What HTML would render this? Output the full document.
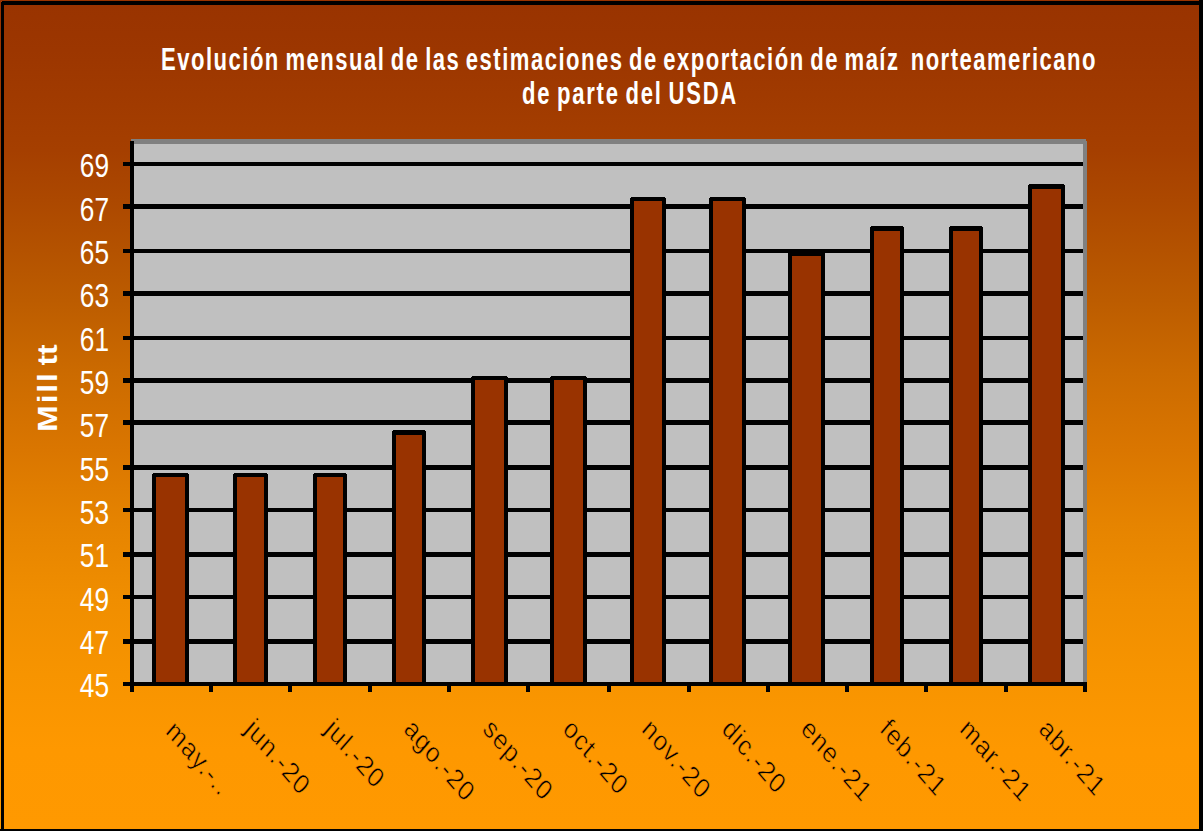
<!DOCTYPE html>
<html><head><meta charset="utf-8"><style>
html,body{margin:0;padding:0}
html{overflow:hidden}
body{width:1203px;height:831px;overflow:hidden;position:relative;
background:linear-gradient(to bottom,rgb(153,51,0) 0px,rgb(156,54,0) 50px,rgb(165,63,0) 150px,rgb(172,72,0) 200px,rgb(188,92,0) 300px,rgb(204,107,0) 375px,rgb(218,118,0) 450px,rgb(230,132,0) 525px,rgb(240,142,0) 600px,rgb(247,148,0) 675px,rgb(254,152,0) 750px,rgb(255,153,0) 831px);
font-family:"Liberation Sans",sans-serif}
div{position:absolute;box-sizing:border-box}
.k{background:#000}
.f{background:#993300}
.yl{color:#fff;font-size:33px;line-height:33px;width:80px;text-align:right;transform-origin:100% 50%;transform:scaleX(0.795)}
.xl{color:#000;font-size:24px;line-height:24px;white-space:nowrap;letter-spacing:1.0px;-webkit-text-stroke:0.5px rgb(252,151,0);transform-origin:0 0;transform:scale(1,1.17) rotate(45deg)}
.title{color:#fff;font-weight:bold;font-size:31.5px;line-height:31.5px;width:1400px;text-align:center;white-space:pre;letter-spacing:2.12px;word-spacing:-2.86px;transform:scaleX(0.7)}
.ytitle{color:#fff;font-weight:bold;font-size:28px;line-height:28px;white-space:pre}
</style></head><body>
<div class="k" style="left:1px;top:1px;width:1202px;height:4px"></div>
<div class="k" style="left:1px;top:1px;width:3px;height:830px"></div>
<div class="k" style="left:1199px;top:0;width:4px;height:831px"></div>
<div class="k" style="left:0;top:829px;width:1203px;height:2px"></div>
<div style="left:1px;top:1px;width:1px;height:1px;background:#a83a00"></div>
<div style="left:1086px;top:139px;width:1px;height:2px;background:rgb(164,62,0);z-index:5"></div>
<div style="left:131px;top:139px;width:956px;height:547px;background:#808080"></div>
<div style="left:134px;top:144px;width:949px;height:538px;background:#C0C0C0"></div>
<div class="k" style="left:123px;top:162px;width:960px;height:4px"></div>
<div class="k" style="left:123px;top:204px;width:960px;height:5px"></div>
<div class="k" style="left:123px;top:249px;width:960px;height:4px"></div>
<div class="k" style="left:123px;top:291px;width:960px;height:5px"></div>
<div class="k" style="left:123px;top:336px;width:960px;height:4px"></div>
<div class="k" style="left:123px;top:378px;width:960px;height:5px"></div>
<div class="k" style="left:123px;top:420px;width:960px;height:5px"></div>
<div class="k" style="left:123px;top:465px;width:960px;height:5px"></div>
<div class="k" style="left:123px;top:508px;width:960px;height:4px"></div>
<div class="k" style="left:123px;top:552px;width:960px;height:5px"></div>
<div class="k" style="left:123px;top:595px;width:960px;height:4px"></div>
<div class="k" style="left:123px;top:639px;width:960px;height:5px"></div>
<div class="k" style="left:152px;top:473px;width:37px;height:209px"></div>
<div class="f" style="left:156px;top:477px;width:29px;height:205px"></div>
<div style="left:152px;top:473px;width:1px;height:1px;background:#C0C0C0"></div><div style="left:188px;top:473px;width:1px;height:1px;background:#C0C0C0"></div>
<div class="k" style="left:233px;top:473px;width:35px;height:209px"></div>
<div class="f" style="left:237px;top:477px;width:27px;height:205px"></div>
<div style="left:233px;top:473px;width:1px;height:1px;background:#C0C0C0"></div><div style="left:267px;top:473px;width:1px;height:1px;background:#C0C0C0"></div>
<div class="k" style="left:313px;top:473px;width:34px;height:209px"></div>
<div class="f" style="left:317px;top:477px;width:26px;height:205px"></div>
<div style="left:313px;top:473px;width:1px;height:1px;background:#C0C0C0"></div><div style="left:346px;top:473px;width:1px;height:1px;background:#C0C0C0"></div>
<div class="k" style="left:392px;top:430px;width:34px;height:252px"></div>
<div class="f" style="left:396px;top:435px;width:26px;height:247px"></div>
<div style="left:392px;top:430px;width:1px;height:1px;background:#C0C0C0"></div><div style="left:425px;top:430px;width:1px;height:1px;background:#C0C0C0"></div>
<div class="k" style="left:471px;top:376px;width:37px;height:306px"></div>
<div class="f" style="left:475px;top:380px;width:29px;height:302px"></div>
<div style="left:471px;top:376px;width:1px;height:1px;background:#C0C0C0"></div><div style="left:507px;top:376px;width:1px;height:1px;background:#C0C0C0"></div>
<div class="k" style="left:550px;top:376px;width:37px;height:306px"></div>
<div class="f" style="left:554px;top:380px;width:29px;height:302px"></div>
<div style="left:550px;top:376px;width:1px;height:1px;background:#C0C0C0"></div><div style="left:586px;top:376px;width:1px;height:1px;background:#C0C0C0"></div>
<div class="k" style="left:630px;top:197px;width:36px;height:485px"></div>
<div class="f" style="left:634px;top:201px;width:28px;height:481px"></div>
<div style="left:630px;top:197px;width:1px;height:1px;background:#C0C0C0"></div><div style="left:665px;top:197px;width:1px;height:1px;background:#C0C0C0"></div>
<div class="k" style="left:709px;top:197px;width:37px;height:485px"></div>
<div class="f" style="left:713px;top:201px;width:29px;height:481px"></div>
<div style="left:709px;top:197px;width:1px;height:1px;background:#C0C0C0"></div><div style="left:745px;top:197px;width:1px;height:1px;background:#C0C0C0"></div>
<div class="k" style="left:788px;top:252px;width:37px;height:430px"></div>
<div class="f" style="left:792px;top:256px;width:29px;height:426px"></div>
<div class="k" style="left:870px;top:226px;width:34px;height:456px"></div>
<div class="f" style="left:874px;top:231px;width:26px;height:451px"></div>
<div style="left:870px;top:226px;width:1px;height:1px;background:#C0C0C0"></div><div style="left:903px;top:226px;width:1px;height:1px;background:#C0C0C0"></div>
<div class="k" style="left:949px;top:226px;width:34px;height:456px"></div>
<div class="f" style="left:953px;top:231px;width:26px;height:451px"></div>
<div style="left:949px;top:226px;width:1px;height:1px;background:#C0C0C0"></div><div style="left:982px;top:226px;width:1px;height:1px;background:#C0C0C0"></div>
<div class="k" style="left:1028px;top:184px;width:37px;height:498px"></div>
<div class="f" style="left:1032px;top:189px;width:29px;height:493px"></div>
<div style="left:1028px;top:184px;width:1px;height:1px;background:#C0C0C0"></div><div style="left:1064px;top:184px;width:1px;height:1px;background:#C0C0C0"></div>
<div class="k" style="left:123px;top:682px;width:964px;height:4px"></div>
<div class="k" style="left:130px;top:141px;width:4px;height:551px"></div>
<div class="k" style="left:130px;top:686px;width:4px;height:6px"></div>
<div class="k" style="left:209px;top:686px;width:4px;height:6px"></div>
<div class="k" style="left:288px;top:686px;width:4px;height:6px"></div>
<div class="k" style="left:368px;top:686px;width:4px;height:6px"></div>
<div class="k" style="left:447px;top:686px;width:4px;height:6px"></div>
<div class="k" style="left:526px;top:686px;width:4px;height:6px"></div>
<div class="k" style="left:607px;top:686px;width:4px;height:6px"></div>
<div class="k" style="left:687px;top:686px;width:4px;height:6px"></div>
<div class="k" style="left:766px;top:686px;width:4px;height:6px"></div>
<div class="k" style="left:845px;top:686px;width:4px;height:6px"></div>
<div class="k" style="left:924px;top:686px;width:4px;height:6px"></div>
<div class="k" style="left:1004px;top:686px;width:4px;height:6px"></div>
<div class="k" style="left:1083px;top:686px;width:4px;height:6px"></div>
<div class="yl" style="left:29px;top:149.20px">69</div>
<div class="yl" style="left:29px;top:192.53px">67</div>
<div class="yl" style="left:29px;top:235.86px">65</div>
<div class="yl" style="left:29px;top:279.19px">63</div>
<div class="yl" style="left:29px;top:322.52px">61</div>
<div class="yl" style="left:29px;top:365.85px">59</div>
<div class="yl" style="left:29px;top:409.18px">57</div>
<div class="yl" style="left:29px;top:452.51px">55</div>
<div class="yl" style="left:29px;top:495.84px">53</div>
<div class="yl" style="left:29px;top:539.17px">51</div>
<div class="yl" style="left:29px;top:582.50px">49</div>
<div class="yl" style="left:29px;top:625.83px">47</div>
<div class="yl" style="left:29px;top:669.16px">45</div>
<div class="xl" style="left:178.71px;top:716px">may.-..</div>
<div class="xl" style="left:258.12px;top:714px">jun.-20</div>
<div class="xl" style="left:337.54px;top:714px">jul.-20</div>
<div class="xl" style="left:416.96px;top:714px">ago.-20</div>
<div class="xl" style="left:496.38px;top:714px">sep.-20</div>
<div class="xl" style="left:575.79px;top:714px">oct.-20</div>
<div class="xl" style="left:655.21px;top:714px">nov.-20</div>
<div class="xl" style="left:734.62px;top:714px">dic.-20</div>
<div class="xl" style="left:814.04px;top:714px">ene.-21</div>
<div class="xl" style="left:893.46px;top:714px">feb.-21</div>
<div class="xl" style="left:972.88px;top:714px">mar.-21</div>
<div class="xl" style="left:1052.29px;top:714px">abr.-21</div>
<div class="title" style="left:-71.5px;top:43.5px">Evolución mensual de las estimaciones de exportación de maíz  norteamericano</div>
<div class="title" style="left:-70.29999999999995px;top:78.3px;letter-spacing:2.5px">de parte del USDA</div>
<div class="ytitle" style="left:47.5px;top:387.5px;transform:translate(-50%,-50%) rotate(-90deg) scaleX(1.13)"><span style="letter-spacing:1.7px">Mill</span><span style="margin-left:-2.7px"> tt</span></div>
</body></html>
